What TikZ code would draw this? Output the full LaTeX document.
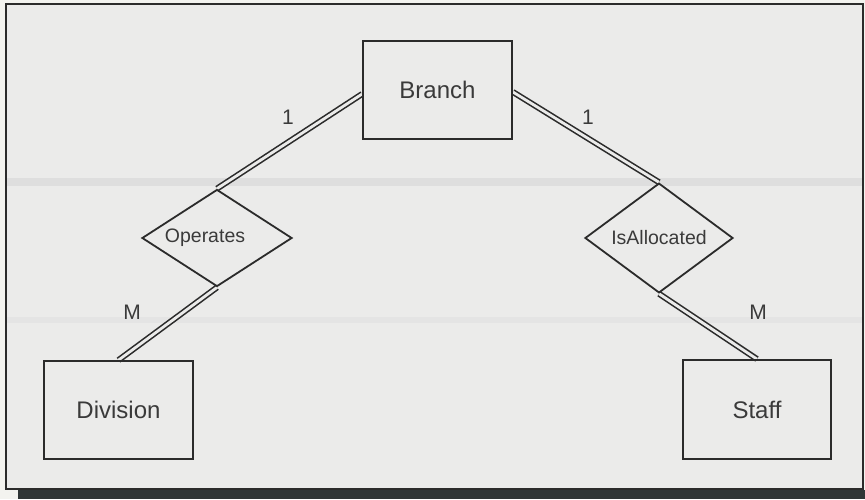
\documentclass[tikz,border=0pt]{standalone}
\usepackage{fontspec}
\setmainfont{Liberation Sans}
\usetikzlibrary{shapes.geometric,backgrounds}

\definecolor{paper}{HTML}{EBEBEA}
\definecolor{margin}{HTML}{F3F3EF}
\definecolor{ink}{HTML}{2B2B2B}
\definecolor{txt}{HTML}{3A3A3A}
\definecolor{shadow}{HTML}{2F3535}
\definecolor{band}{HTML}{DEDEDE}

\tikzset{
  entity/.style={draw=ink, line width=1.8pt, rectangle,
    minimum width=149pt, minimum height=98pt, inner sep=0pt,
    text=txt, font=\fontsize{24}{28}\selectfont},
  relation/.style={draw=ink, line width=1.8pt, diamond,
    minimum width=150pt, minimum height=97pt, inner sep=0pt,
    text=txt, font=\fontsize{19.5}{23}\selectfont},
  card/.style={text=txt, inner sep=0pt, font=\fontsize{21}{25}\selectfont},
  link/.style={draw=ink, line width=1.6pt, double=paper, double distance=2.8pt}
}

\begin{document}
\begin{tikzpicture}[x=1pt, y=-1pt]
  \useasboundingbox (0,0) rectangle (865,499);

  % entities
  \node[entity] (branch)   at (437.5,90)  {Branch};
  \node[entity] (division) at (118.5,410) {Division};
  \node[entity, minimum width=148pt, minimum height=99pt] (staff) at (757,409.5) {Staff};

  % relationships (the Operates label sits a little left of centre)
  \node[relation] (operates)    at (217,238) {\hspace*{-24pt}Operates};
  \node[relation, minimum width=148pt, minimum height=96pt] (isallocated) at (659,238) {IsAllocated};

  % cardinalities
  \node[card] (c1) at (288,117) {1};
  \node[card] (c2) at (588,117) {1};
  \node[card] (c3) at (132,312) {M};
  \node[card] (c4) at (758,312) {M};

  \begin{scope}[on background layer]
    % page, frame and its shadow
    \fill[margin] (0,0) rectangle (865,499);
    \fill[paper] (6,4) rectangle (863,489);
    \fill[band] (7,178) rectangle (862,186);
    \fill[band!50!paper] (7,317) rectangle (862,323);
    \draw[ink, line width=1.6pt] (6,4) rectangle (863,489);
    \fill[shadow] (18,489.8) rectangle (865,499);

    % total participation links
    \draw[link] (operates.north) -- ([yshift=-4pt]branch.west);
    \draw[link] (isallocated.north) -- ([yshift=-2pt]branch.east);
    \draw[link] (operates.south) -- (division.north);
    \draw[link] (isallocated.south) -- (staff.north);
  \end{scope}
\end{tikzpicture}
\end{document}
